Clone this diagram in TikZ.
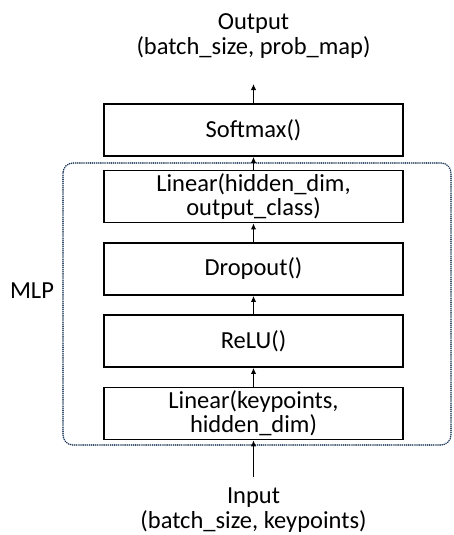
\documentclass[tikz,border=0pt]{standalone}
\usepackage{fontspec}
\setmainfont{Carlito}
\usetikzlibrary{arrows.meta}
\definecolor{dotblue}{HTML}{1F3A5C}
\begin{document}
\begin{tikzpicture}[x=1pt,y=-1pt,
  layer/.style={draw=black, line width=1.8pt, minimum width=299pt, minimum height=52pt, inner sep=0pt, align=center, font=\fontsize{24.5}{24}\selectfont},
  lbl/.style={align=center, inner sep=0pt, font=\fontsize{24.5}{25}\selectfont},
  flow/.style={-{Latex[length=6pt,width=5.5pt]}, line width=1.4pt}]
\useasboundingbox (0,0) rectangle (453,535);
\node[lbl] (out) at (253.5,36) {Output\\(batch\_size, prob\_map)};
\node[layer] (soft) at (253.5,130) {Softmax()};
\node[layer] (lin2) at (253.5,196.5) {Linear(hidden\_dim,\\output\_class)};
\node[layer] (drop) at (253.5,269) {Dropout()};
\node[layer] (relu) at (253.5,341) {ReLU()};
\node[layer] (lin1) at (253.5,413.5) {Linear(keypoints,\\hidden\_dim)};
\node[lbl] (inp) at (253.5,510) {Input\\(batch\_size, keypoints)};
\node[lbl] (mlp) at (32,291) {MLP};
\draw[dotblue, line width=1.7pt, dash pattern=on 0.1pt off 2pt, line cap=round, rounded corners=10pt] (63,163) rectangle (451,445);
\coordinate (otip) at (253.5,84);
\coordinate (itail) at (253.5,477);
\draw[flow] (soft.north) -- (otip);
\draw[flow] (lin2.north) -- (soft.south);
\draw[flow] (drop.north) -- (lin2.south);
\draw[flow] (relu.north) -- (drop.south);
\draw[flow] (lin1.north) -- (relu.south);
\draw[flow] (itail) -- (lin1.south);
\end{tikzpicture}
\end{document}
